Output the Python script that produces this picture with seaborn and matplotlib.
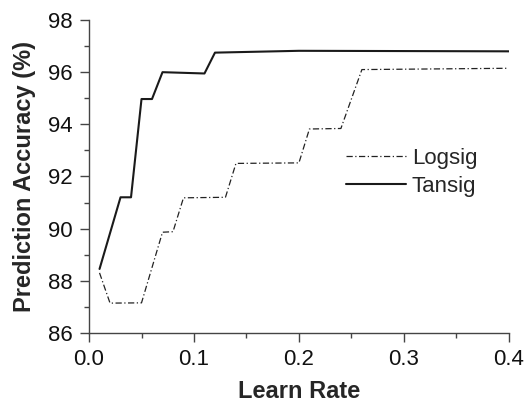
import matplotlib
matplotlib.use("Agg")
import matplotlib.pyplot as plt
import pandas as pd
import seaborn as sns
from matplotlib.ticker import MultipleLocator

# Values
tansig_rate = [0.01, 0.03, 0.04, 0.05, 0.06, 0.07, 0.11, 0.12, 0.2, 0.4]
tansig_acc = [88.45, 91.2, 91.2, 94.97, 94.97, 96.0, 95.95, 96.75, 96.82, 96.8]

logsig_rate = [0.01, 0.02, 0.05, 0.07, 0.08, 0.09, 0.13, 0.14, 0.2, 0.21, 0.24, 0.26, 0.4]
logsig_acc = [88.3, 87.14, 87.15, 89.86, 89.88, 91.18, 91.2, 92.5, 92.52, 93.82, 93.84, 96.1, 96.15]

sns.set_style("ticks")
plt.rcParams['font.family'] = ['Liberation Sans', 'DejaVu Sans']

fig = plt.figure(figsize=(5.3, 4.01), dpi=100)
ax = fig.add_axes([0.168, 0.170, 0.792, 0.780])

logsig = pd.DataFrame({"rate": logsig_rate, "acc": logsig_acc})
tansig = pd.DataFrame({"rate": tansig_rate, "acc": tansig_acc})

sns.lineplot(data=logsig, x="rate", y="acc", ax=ax, color="#222222", linewidth=0.9,
             linestyle=(0, (5, 2, 1, 2)), label="Logsig", sort=False)
sns.lineplot(data=tansig, x="rate", y="acc", ax=ax, color="#1a1a1a", linewidth=1.5,
             label="Tansig", sort=False)

ax.set_xlim(0, 0.4)
ax.set_ylim(86, 98)
ax.xaxis.set_major_locator(MultipleLocator(0.1))
ax.xaxis.set_minor_locator(MultipleLocator(0.05))
ax.yaxis.set_major_locator(MultipleLocator(2))
ax.yaxis.set_minor_locator(MultipleLocator(1))
ax.xaxis.set_major_formatter(matplotlib.ticker.FormatStrFormatter("%.1f"))
ax.tick_params(which="major", length=6.5, width=1, labelsize=16, color="#444444",
               labelcolor="#111111", pad=5)
ax.tick_params(which="minor", length=3.8, width=1, color="#444444")
for s in ["left", "bottom"]:
    ax.spines[s].set_color("#444444")
    ax.spines[s].set_linewidth(1)
sns.despine(ax=ax)

ax.set_xlabel("Learn Rate", fontsize=17, fontweight="bold", labelpad=7)
ax.set_ylabel("Prediction Accuracy (%)", fontsize=17, fontweight="bold", labelpad=9)

ax.legend(loc="center left", bbox_to_anchor=(0.565, 0.513), frameon=False, fontsize=16,
          handlelength=2.7, handletextpad=0.25, labelspacing=0.3)

fig.savefig("out.png", dpi=100)
